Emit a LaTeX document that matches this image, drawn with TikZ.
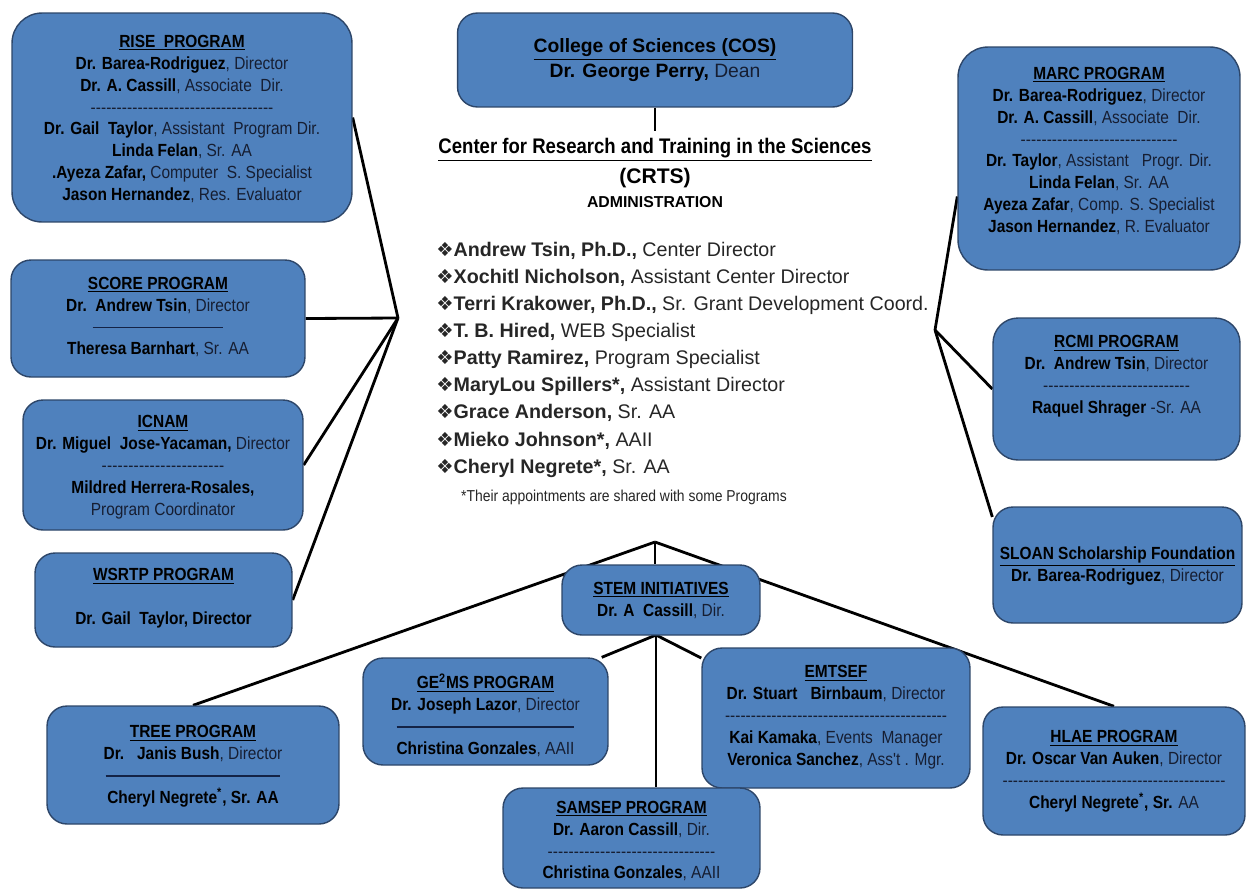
\documentclass[tikz,border=0pt]{standalone}
\usepackage{fontspec}
\setmainfont{Liberation Sans}
\newfontfamily\narrowfont{Liberation Sans}[FakeStretch=0.88]
\newfontfamily\symfont{DejaVu Sans}
\usepackage{tikz}
\usetikzlibrary{positioning,backgrounds,calc}
\usepackage{xcolor}
\definecolor{boxblue}{RGB}{79,129,189}
\definecolor{boxedge}{RGB}{45,70,105}
\definecolor{roletext}{RGB}{22,30,50}
\definecolor{ruleblue}{RGB}{20,35,70}
\tikzstyle{progbox} = [rectangle, rounded corners=0.4cm, draw=boxedge, fill=boxblue, line width=0.8pt]
\tikzstyle{boxtext} = [align=center, inner sep=0pt, text=roletext, font=\narrowfont\fontsize{10}{12.5}\selectfont]
\tikzstyle{link} = [line width=1.6pt, color=black]
\newcommand{\who}[1]{{\bfseries\color{black}#1}}
\newcommand{\ttl}[1]{{\bfseries\color{black}\underline{#1}}}
\newcommand{\dashrow}[1]{\hbox to #1{\xleaders\hbox{-}\hfill}}
\newcommand{\solidrow}[1]{{\color{ruleblue}\rule[0.5ex]{#1}{0.9pt}}}
\newcommand{\bul}{{\symfont\fontsize{11}{11}\selectfont ❖}}

\begin{document}
\begin{tikzpicture}[x=0.02cm, y=-0.02cm]
\useasboundingbox (0,0) rectangle (1246,890);

% College of Sciences
\node[progbox, minimum width=7.9cm, minimum height=1.88cm] (cos) at (655,60) {};
\node[boxtext, font=\fontsize{11}{14}\selectfont] (cos-t) at (655,60) {\ttl{College of Sciences (COS)}\\ \who{Dr. George Perry,} Dean};

% CRTS administration
\node[font=\narrowfont\bfseries\fontsize{12}{14}\selectfont] (crts) at (655,150) {\underline{Center for Research and Training in the Sciences}};
\node[font=\bfseries\fontsize{12}{14}\selectfont] (crtsabbr) at (655,178) {(CRTS)};
\node[font=\bfseries\fontsize{9}{11}\selectfont] (admin) at (655,202) {ADMINISTRATION};
\node[anchor=north west, align=left, inner sep=0pt, text=black!85, font=\fontsize{11.2}{15.4}\selectfont] (staff) at (436,242) {
\bul\textbf{Andrew Tsin, Ph.D.,} Center Director\\
\bul\textbf{Xochitl Nicholson,} Assistant Center Director\\
\bul\textbf{Terri Krakower, Ph.D.,} Sr. Grant Development Coord.\\
\bul\textbf{T. B. Hired,} WEB Specialist\\
\bul\textbf{Patty Ramirez,} Program Specialist\\
\bul\textbf{MaryLou Spillers*,} Assistant Director\\
\bul\textbf{Grace Anderson,} Sr. AA\\
\bul\textbf{Mieko Johnson*,} AAII\\
\bul\textbf{Cheryl Negrete*,} Sr. AA};
\node[font=\narrowfont\fontsize{9}{11}\selectfont, text=black!85] (note) at (624,497) {*Their appointments are shared with some Programs};

% Left programs
\node[progbox, rounded corners=0.6cm, minimum width=6.8cm, minimum height=4.18cm] (rise) at (182,117.5) {};
\node[boxtext] (rise-t) at (182,119) {\ttl{RISE\ \ PROGRAM}\\
\who{Dr. Barea-Rodriguez}, Director\\
\who{Dr. A. Cassill}, Associate\ \ Dir.\\
\dashrow{3.66cm}\\
\who{Dr. Gail\ \ Taylor}, Assistant\ \ Program Dir.\\
\who{Linda Felan}, Sr. AA\\
\who{.Ayeza Zafar,} Computer\ \ S. Specialist\\
\who{Jason Hernandez}, Res. Evaluator};

\node[progbox, minimum width=5.88cm, minimum height=2.34cm] (score) at (158,318.5) {};
\node[boxtext] (score-t) at (158,317) {\ttl{SCORE PROGRAM}\\
\who{Dr.\ \ Andrew Tsin}, Director\\
\solidrow{2.62cm}\\
\who{Theresa Barnhart}, Sr. AA};

\node[progbox, minimum width=5.6cm, minimum height=2.6cm] (icnam) at (163,465) {};
\node[boxtext] (icnam-t) at (163,467) {\ttl{ICNAM}\\
\who{Dr. Miguel\ \ Jose-Yacaman,} Director\\
\dashrow{2.46cm}\\
\who{Mildred Herrera-Rosales,}\\
Program Coordinator};

\node[progbox, minimum width=5.14cm, minimum height=1.88cm] (wsrtp) at (163.5,600) {};
\node[boxtext] (wsrtp-t) at (163.5,598) {\ttl{WSRTP PROGRAM}\\[12.5pt]
\who{Dr. Gail\ \ Taylor, Director}};

% Right programs
\node[progbox, rounded corners=0.6cm, minimum width=5.64cm, minimum height=4.46cm] (marc) at (1099,158.5) {};
\node[boxtext] (marc-t) at (1099,151) {\ttl{MARC PROGRAM}\\
\who{Dr. Barea-Rodriguez}, Director\\
\who{Dr. A. Cassill}, Associate\ \ Dir.\\
\dashrow{3.14cm}\\
\who{Dr. Taylor}, Assistant\ \ \ Progr. Dir.\\
\who{Linda Felan}, Sr. AA\\
\who{Ayeza Zafar}, Comp. S. Specialist\\
\who{Jason Hernandez}, R. Evaluator};

\node[progbox, rounded corners=0.5cm, minimum width=4.94cm, minimum height=2.84cm] (rcmi) at (1116.5,389) {};
\node[boxtext] (rcmi-t) at (1116.5,376) {\ttl{RCMI PROGRAM}\\
\who{Dr.\ \ Andrew Tsin}, Director\\
\dashrow{2.94cm}\\
\who{Raquel Shrager} -Sr. AA};

\node[progbox, minimum width=4.98cm, minimum height=2.32cm] (sloan) at (1117.5,565) {};
\node[boxtext] (sloan-t) at (1117.5,566) {\ttl{SLOAN Scholarship Foundation}\\
\who{Dr. Barea-Rodriguez}, Director};

% STEM initiatives
\node[progbox, minimum width=3.96cm, minimum height=1.4cm] (stem) at (661,600) {};
\node[boxtext] (stem-t) at (661,600) {\ttl{STEM INITIATIVES}\\
\who{Dr. A\ \ Cassill}, Dir.};

\node[progbox, minimum width=4.9cm, minimum height=2.14cm] (ge2ms) at (485.5,711.5) {};
\node[boxtext] (ge2ms-t) at (485.5,715) {\ttl{GE\textsuperscript{2}MS PROGRAM}\\
\who{Dr. Joseph Lazor}, Director\\
\solidrow{3.56cm}\\
\who{Christina Gonzales}, AAII};

\node[progbox, minimum width=5.36cm, minimum height=2.8cm] (emtsef) at (836,718) {};
\node[boxtext] (emtsef-t) at (836,717) {\ttl{EMTSEF}\\
\who{Dr. Stuart\ \ \ Birnbaum}, Director\\
\dashrow{4.44cm}\\
\who{Kai Kamaka}, Events\ \ Manager\\
\who{Veronica Sanchez}, Ass't . Mgr.};

\node[progbox, minimum width=5.14cm, minimum height=2cm] (samsep) at (631.5,838) {};
\node[boxtext] (samsep-t) at (631.5,841) {\ttl{SAMSEP PROGRAM}\\
\who{Dr. Aaron Cassill}, Dir.\\
\dashrow{3.36cm}\\
\who{Christina Gonzales}, AAII};

\node[progbox, minimum width=5.84cm, minimum height=2.36cm] (tree) at (193,765) {};
\node[boxtext] (tree-t) at (193,766) {\ttl{TREE PROGRAM}\\
\who{Dr.\ \ \ Janis Bush}, Director\\
\solidrow{3.5cm}\\
\who{Cheryl Negrete\textsuperscript{*}, Sr. AA}};

\node[progbox, minimum width=5.24cm, minimum height=2.56cm] (hlae) at (1114,771) {};
\node[boxtext] (hlae-t) at (1114,771) {\ttl{HLAE PROGRAM}\\
\who{Dr. Oscar Van Auken}, Director\\
\dashrow{4.46cm}\\
\who{Cheryl Negrete\textsuperscript{*}, Sr.} AA};

% Connectors
\coordinate (cosfoot) at (655,131);
\coordinate (lhub) at (398,318);
\coordinate (rhub) at (935,330);
\coordinate (bhub) at (655,542);
\coordinate (stemfoot) at (656,635);
\begin{scope}[on background layer]
\draw[link] (cos.south) -- (cosfoot);
\draw[link] (lhub) -- (rise.east);
\draw[link] (lhub) -- (score.east);
\draw[link] (lhub) -- (icnam.east);
\draw[link] (lhub) -- (wsrtp.east);
\draw[link] (rhub) -- (marc.195);
\draw[link] (rhub) -- (rcmi.west);
\draw[link] (rhub) -- (sloan.159);
\draw[link] (bhub) -- (bhub |- stem.north);
\draw[link] (bhub) -- (tree.north);
\draw[link] (bhub) -- (hlae.north);
\draw[link] (stemfoot) -- (ge2ms.25);
\draw[link] (stemfoot) -- (stemfoot |- samsep.north);
\draw[link] (stemfoot) -- (emtsef.156);
\end{scope}
\end{tikzpicture}
\end{document}
